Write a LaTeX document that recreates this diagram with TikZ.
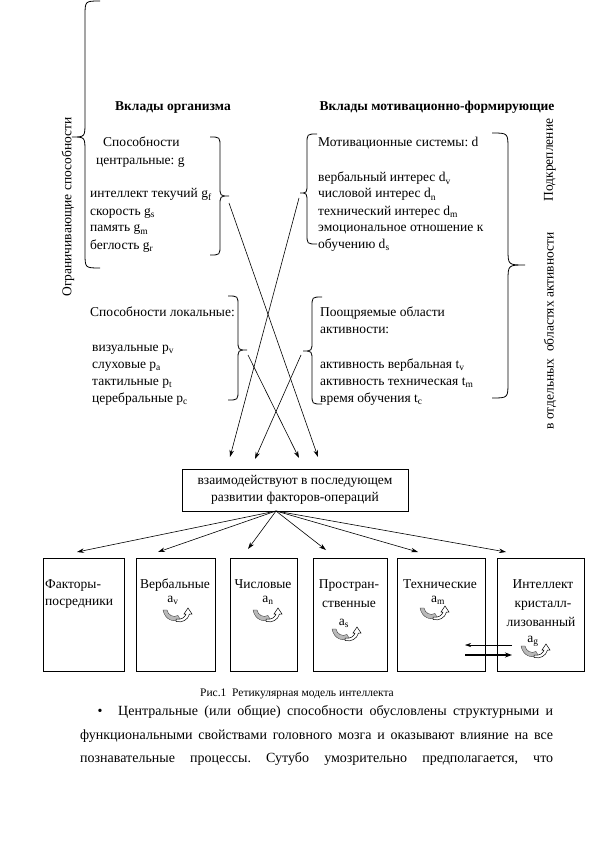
\documentclass[tikz,border=0pt]{standalone}
\usepackage{fontspec}
\setmainfont{Liberation Serif}
\usetikzlibrary{arrows.meta,calc}
\frenchspacing
\newcommand\dfs{\fontsize{13.5}{17}\selectfont}
\newcommand\bfs{\fontsize{14}{24}\selectfont}
\newcommand\cfs{\fontsize{11.5}{14}\selectfont}
\newcommand\sbs[1]{\textsubscript{#1}}
% left brace {: #1 line x, #2 top y, #3 bottom y, #4 tip x, #5 tip y, #6 radius
\newcommand\myLbr[6]{\draw[brc] (#1+#6,#2) .. controls (#1,#2) .. (#1,#2+#6) -- (#1,#5-#6) .. controls (#1,#5) .. (#4,#5) .. controls (#1,#5) .. (#1,#5+#6) -- (#1,#3-#6) .. controls (#1,#3) .. (#1+#6,#3);}
\newcommand\myRbr[6]{\draw[brc] (#1-#6,#2) .. controls (#1,#2) .. (#1,#2+#6) -- (#1,#5-#6) .. controls (#1,#5) .. (#4,#5) .. controls (#1,#5) .. (#1,#5+#6) -- (#1,#3-#6) .. controls (#1,#3) .. (#1-#6,#3);}
\begin{document}
\begin{tikzpicture}[x=1pt,y=-1pt,
  txt/.style={anchor=base west, inner sep=0pt, font=\dfs},
  ctxt/.style={anchor=base, inner sep=0pt, font=\dfs},
  head/.style={anchor=base, inner sep=0pt, font=\dfs\bfseries},
  vtxt/.style={rotate=90, inner sep=0pt, font=\dfs},
  brc/.style={line width=0.8pt},
  arr/.style={-{Stealth[length=7pt,width=4.5pt]}, line width=0.6pt},
  fbox/.style={draw, line width=1pt, minimum height=113pt, inner sep=0pt},
  swirl/.pic={
    \fill[gray!55, draw=gray!30!black, line width=0.3pt] (-14,-5) .. controls (-12,5) and (-3,8) .. (3,4) -- (1,0.5) .. controls (-4,3) and (-9,0) .. (-10,-5) -- cycle;
    \draw[line width=0.5pt, fill=white] (-1,4) .. controls (5,5) and (8,2) .. (9,-1) -- (7,-1) -- (11,-7) -- (15,-1) -- (12.5,-1) .. controls (11,5) and (5,8) .. (-1,6.5) -- cycle;
  }]
\useasboundingbox (0,0) rectangle (595,842);
\fill[white] (0,0) rectangle (595,842);

% ---- braces
\myLbr{85}{1}{268}{72}{137}{15}
\myRbr{220}{137}{255}{229}{196}{10}
\myLbr{307}{134}{244}{300}{193}{10}
\myRbr{508}{133}{398}{525}{265}{16}
\myRbr{238}{296}{400}{247}{350}{10}
\myLbr{312}{297}{404}{303}{351}{10}

% ---- vertical texts
\node[vtxt] (vlim) at (68,207) {Ограничивающие способности};
\node[vtxt] (vpod) at (550,160) {Подкрепление};
\node[vtxt] (vobl) at (550,331) {в отдельных\ \ областях активности};

% ---- headings
\node[head] (h1) at (173,111) {Вклады организма};
\node[head] (h2) at (437,111) {Вклады мотивационно-формирующие};

% ---- central abilities
\node[txt] (cs1) at (103,147) {Способности};
\node[txt] (cs2) at (96,165) {центральные: g};
\node[txt] (g1) at (90,198) {интеллект текучий g\sbs{f}};
\node[txt] (g2) at (90,215) {скорость g\sbs{s}};
\node[txt] (g3) at (90,232) {память g\sbs{m}};
\node[txt] (g4) at (90,249) {беглость g\sbs{r}};

% ---- motivational
\node[txt] (m0) at (318,147) {Мотивационные системы: d};
\node[txt] (m1) at (318,182) {вербальный интерес d\sbs{v}};
\node[txt] (m2) at (318,198) {числовой интерес d\sbs{n}};
\node[txt] (m3) at (318,215) {технический интерес d\sbs{m}};
\node[txt] (m4) at (318,231) {эмоциональное отношение к};
\node[txt] (m5) at (318,248) {обучению d\sbs{s}};

% ---- local
\node[txt] (l0) at (90,316) {Способности локальные:};
\node[txt] (l1) at (92,351) {визуальные p\sbs{v}};
\node[txt] (l2) at (92,368) {слуховые p\sbs{a}};
\node[txt] (l3) at (92,385) {тактильные p\sbs{t}};
\node[txt] (l4) at (92,402) {церебральные p\sbs{c}};

% ---- encouraged
\node[txt] (e0) at (320,316) {Поощряемые области};
\node[txt] (e1) at (320,333) {активности:};
\node[txt] (e2) at (320,368) {активность вербальная t\sbs{v}};
\node[txt] (e3) at (320,385) {активность техническая t\sbs{m}};
\node[txt] (e4) at (320,402) {время обучения t\sbs{c}};

% ---- crossing arrows
\coordinate (a1s) at (229,203); \coordinate (a1e) at (318,457);
\coordinate (a2s) at (299,198); \coordinate (a2e) at (230,457);
\coordinate (a3s) at (248,355); \coordinate (a3e) at (299,458);
\coordinate (a4s) at (301,355); \coordinate (a4e) at (255,459);
\draw[arr] (a1s) -- (a1e);
\draw[arr] (a2s) -- (a2e);
\draw[arr] (a3s) -- (a3e);
\draw[arr] (a4s) -- (a4e);

% ---- middle box
\node[draw, line width=0.8pt, minimum width=226pt, minimum height=42pt, align=center, font=\dfs, inner sep=0pt] (mid) at (295,490) {взаимодействуют в последующем\\развитии факторов-операций};
\coordinate (fan) at (276,511);

% ---- bottom boxes
\node[fbox, minimum width=81pt] (b1) at (83.5,614.5) {};
\node[fbox, minimum width=79pt] (b2) at (175.5,614.5) {};
\node[fbox, minimum width=67pt] (b3) at (263.5,614.5) {};
\node[fbox, minimum width=74pt] (b4) at (350,614.5) {};
\node[fbox, minimum width=88pt] (b5) at (441,614.5) {};
\node[fbox, minimum width=87pt] (b6) at (540.5,614.5) {};

\coordinate (t1) at (77,552); \coordinate (t2) at (158,552);
\coordinate (t3) at (248,549); \coordinate (t4) at (326,550);
\coordinate (t5) at (418,552); \coordinate (t6) at (506,552);
\foreach \t in {t1,t2,t3,t4,t5,t6} \draw[arr] (fan) -- (\t);

% ---- bottom box texts
\node[txt] (f1) at (45,588) {Факторы-};
\node[txt] (f2) at (45,605) {посредники};
\node[ctxt] (vb) at (175,588) {Вербальные};
\node[ctxt] (av) at (173,602) {a\sbs{v}};
\pic at (177,615) {swirl};
\node[ctxt] (ch) at (263,588) {Числовые};
\node[ctxt] (an) at (268,602) {a\sbs{n}};
\pic at (267,615) {swirl};
\node[ctxt] (pr1) at (349,588) {Простран-};
\node[ctxt] (pr2) at (349,607) {ственные};
\node[ctxt] (as) at (344,625) {a\sbs{s}};
\pic at (346,634) {swirl};
\node[ctxt] (te) at (440,588) {Технические};
\node[ctxt] (am) at (438,602) {a\sbs{m}};
\pic at (434,613) {swirl};
\node[ctxt] (in1) at (543,588) {Интеллект};
\node[ctxt] (in2) at (543,607) {кристалл-};
\node[ctxt] (in3) at (541,626) {лизованный};
\node[ctxt] (ag) at (533,642) {a\sbs{g}};
\pic at (535,651) {swirl};
\coordinate (r1) at (512,645); \coordinate (r2) at (465,645);
\coordinate (r3) at (465,655); \coordinate (r4) at (512,655);
\draw[-{Stealth[length=6pt,width=4pt]}, line width=0.5pt] (r1) -- (r2);
\draw[-{Stealth[length=7pt,width=5pt]}, line width=1.2pt] (r3) -- (r4);

% ---- caption and body
\node[anchor=base, inner sep=0pt, font=\cfs] (cap) at (297,696) {Рис.1\ \ Ретикулярная модель интеллекта};
\node[anchor=base, inner sep=0pt, font=\bfs] (bul) at (100,715) {•};
\node[anchor=base west, inner sep=0pt, font=\bfs] (p1) at (118,715) {\makebox[435pt][s]{Центральные (или общие) способности обусловлены структурными и}};
\node[anchor=base west, inner sep=0pt, font=\bfs] (p2) at (80,739) {\makebox[473pt][s]{функциональными свойствами головного мозга и оказывают влияние на все}};
\node[anchor=base west, inner sep=0pt, font=\bfs] (p3) at (80,762) {\makebox[473pt][s]{познавательные процессы. Сутубо умозрительно предполагается, что}};
\end{tikzpicture}
\end{document}
